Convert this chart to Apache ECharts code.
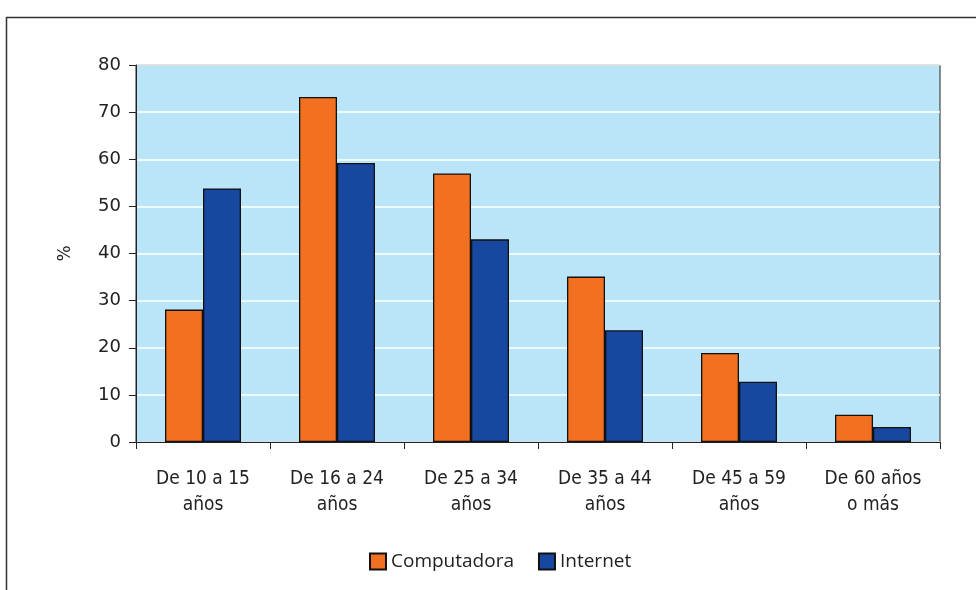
<!DOCTYPE html>
<html>
<head>
<meta charset="utf-8">
<script src="https://cdn.jsdelivr.net/npm/echarts@6/dist/echarts.min.js"></script>
<style>
html,body{margin:0;padding:0;background:#fff;}
#chart{width:976px;height:590px;}
</style>
</head>
<body>
<div id="chart"></div>
<script>
const categories = ["De 10 a 15\naños", "De 16 a 24\naños", "De 25 a 34\naños", "De 35 a 44\naños", "De 45 a 59\naños", "De 60 años\no más"];
const computadora = [28.1, 73.2, 57.0, 35.1, 18.9, 5.8];
const internet = [53.8, 59.2, 43.0, 23.7, 12.8, 3.2];
const yTicks = { min: 0, max: 80, interval: 10 };

const FONT = "'Open Sans', 'Noto Sans', sans-serif";
const NARROW = "'Liberation Sans Narrow', 'DejaVu Sans Condensed', 'Roboto Condensed', sans-serif";
const WIDE = "'DejaVu Sans', 'Noto Sans', sans-serif";
const chart = echarts.init(document.getElementById('chart'));
chart.setOption({
  animation: false,
  backgroundColor: '#ffffff',
  graphic: [{
    type: 'rect', left: 4, top: 15, z: -1,
    shape: { x: 0, y: 0, width: 1000, height: 600 },
    style: { fill: 'none', stroke: '#333', lineWidth: 1.5 }
  }],
  grid: {
    left: 136, right: 36, top: 65, bottom: 148,
    show: true, backgroundColor: '#bae5f8', borderColor: '#222', borderWidth: 1
  },
  legend: {
    top: 547, left: 364,
    itemWidth: 16, itemHeight: 16, itemGap: 24,
    icon: 'rect',
    textStyle: { fontFamily: FONT, fontSize: 19, color: '#222' },
    data: ['Computadora', 'Internet']
  },
  xAxis: {
    type: 'category', data: categories,
    axisLine: { lineStyle: { color: '#222', width: 1 } },
    axisTick: { show: true, length: 7, lineStyle: { color: '#222' } },
    axisLabel: { fontFamily: NARROW, fontSize: 19, color: '#222', lineHeight: 26, margin: 24 }
  },
  yAxis: {
    type: 'value', min: yTicks.min, max: yTicks.max, interval: yTicks.interval,
    name: '%', nameLocation: 'middle', nameGap: 62, nameRotate: 90,
    nameTextStyle: { fontFamily: WIDE, fontSize: 17, color: '#222' },
    axisLine: { show: true, lineStyle: { color: '#222' } },
    axisTick: { show: true, length: 7, lineStyle: { color: '#222' } },
    axisLabel: { fontFamily: WIDE, fontSize: 18, color: '#222', margin: 15 },
    splitLine: { show: true, lineStyle: { color: '#ffffff', width: 1.5 } }
  },
  series: [
    {
      name: 'Computadora', type: 'bar', data: computadora,
      barWidth: 38, barGap: '0%',
      itemStyle: { color: '#f37021', borderColor: '#111', borderWidth: 1.3 }
    },
    {
      name: 'Internet', type: 'bar', data: internet,
      barWidth: 38, barGap: '0%',
      itemStyle: { color: '#17479e', borderColor: '#111', borderWidth: 1.3 }
    }
  ]
});
</script>
</body>
</html>
